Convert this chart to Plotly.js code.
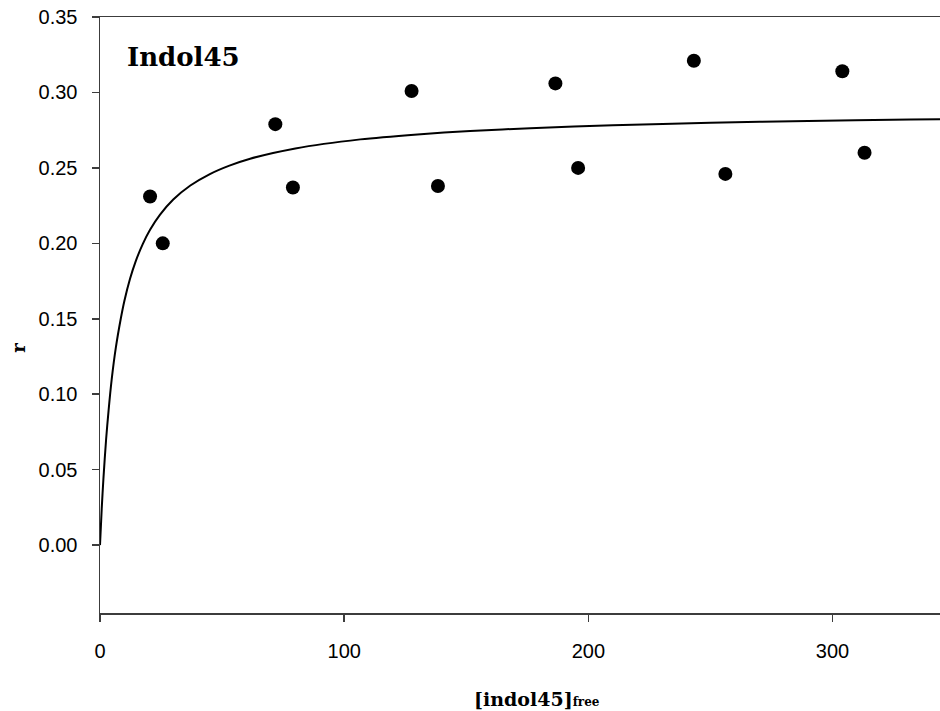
<!DOCTYPE html>
<html>
<head>
<meta charset="utf-8">
<script src="https://cdn.plot.ly/plotly-3.0.1.min.js"></script>
<style>
  html, body { margin: 0; padding: 0; background: #ffffff; }
  #chart { width: 940px; height: 711px; }
</style>
</head>
<body>
<div id="chart"></div>
<script>
// Measured binding data: free ligand concentration vs. r
const freeConc = [20.5, 25.7, 71.8, 79.0, 127.6, 138.4, 186.5, 195.8, 243.2, 256.1, 304.0, 313.1];
const rValues  = [0.231, 0.200, 0.279, 0.237, 0.301, 0.238, 0.306, 0.250, 0.321, 0.246, 0.314, 0.260];

// Saturation fit curve, sampled along its length
const fitX = [0, 0.7, 1.4, 2.5, 3.5, 4.8, 6.5, 8.5, 10, 12.3, 14.5, 17.5, 20.5, 24.6, 30, 37, 45, 53, 61.5, 80, 106.6, 130, 151.6, 176.2, 210, 250, 290, 332, 344];
const fitY = [0, 0.024, 0.044, 0.070, 0.089, 0.110, 0.131, 0.150, 0.162, 0.1765, 0.1876, 0.1995, 0.209, 0.219, 0.229, 0.2383, 0.2459, 0.2515, 0.2561, 0.2629, 0.2689, 0.2722, 0.2745, 0.2763, 0.2782, 0.2799, 0.2811, 0.2820, 0.2822];

const yTicks = [0, 0.05, 0.10, 0.15, 0.20, 0.25, 0.30, 0.35];
const xTicks = [0, 100, 200, 300];

const axisColor = '#3c3c3c';
const tickFont = { family: 'Liberation Sans, Arial, sans-serif', size: 20, color: '#000' };
const serifBold = 'DejaVu Serif, serif';

const traces = [
  {
    x: fitX, y: fitY,
    type: 'scatter', mode: 'lines',
    line: { color: '#000', width: 2, shape: 'spline', smoothing: 0.8 },
    hoverinfo: 'skip', showlegend: false
  },
  {
    x: freeConc, y: rValues,
    type: 'scatter', mode: 'markers',
    marker: { color: '#000', size: 14 },
    showlegend: false
  }
];

const layout = {
  width: 940, height: 711,
  margin: { l: 100, r: 0, t: 17, b: 98, pad: 0 },
  paper_bgcolor: '#fff', plot_bgcolor: '#fff',
  showlegend: false,
  xaxis: {
    range: [0, 344], tickvals: xTicks, ticktext: xTicks.map(String),
    showgrid: false, zeroline: false,
    showline: true, linecolor: axisColor, linewidth: 1.5, mirror: true,
    ticks: 'outside', ticklen: 7, tickwidth: 1.5, tickcolor: axisColor,
    tickfont: tickFont, ticklabelstandoff: 12, automargin: false
  },
  yaxis: {
    range: [-0.045, 0.35], tickvals: yTicks, ticktext: yTicks.map(v => v.toFixed(2)),
    showgrid: false, zeroline: false,
    showline: true, linecolor: axisColor, linewidth: 1.5,
    ticks: 'outside', ticklen: 7, tickwidth: 1.5, tickcolor: axisColor,
    tickfont: tickFont, ticklabelstandoff: 10, automargin: false
  },
  annotations: [
    {
      text: 'Indol45', xref: 'paper', yref: 'paper', x: 0.0298, y: 0.933,
      xanchor: 'left', yanchor: 'middle', showarrow: false,
      font: { family: serifBold, size: 26, color: '#000', weight: 'bold' }
    },
    {
      text: '[indol45]<span style="font-size:12px">free</span>',
      xref: 'paper', yref: 'paper', x: 0.52, y: -0.145,
      xanchor: 'center', yanchor: 'middle', showarrow: false,
      font: { family: serifBold, size: 19, color: '#000', weight: 'bold' }
    },
    {
      text: 'r', xref: 'paper', yref: 'paper', x: -0.098, y: 0.4446,
      xanchor: 'center', yanchor: 'middle', showarrow: false, textangle: -90,
      font: { family: serifBold, size: 18, color: '#000', weight: 'bold' }
    }
  ]
};

Plotly.newPlot('chart', traces, layout, { displayModeBar: false, staticPlot: true });
</script>
</body>
</html>
